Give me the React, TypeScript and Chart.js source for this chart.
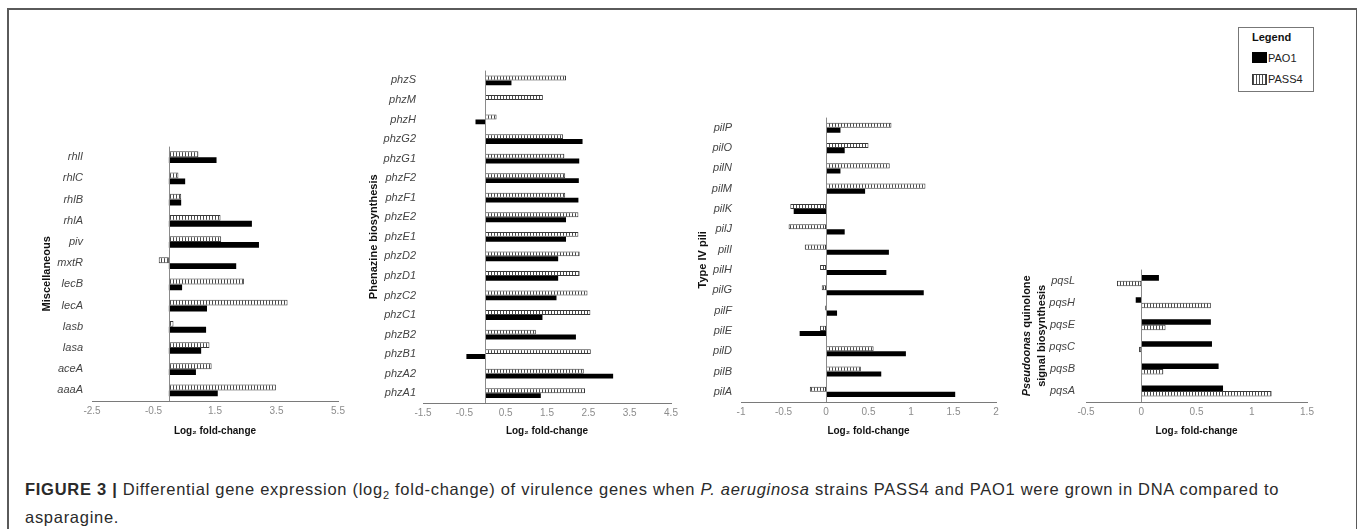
import React, { useEffect, useRef } from "react";
import { Chart, registerables } from "chart.js";
Chart.register(...registerables);

// ---------- DATA ----------
const miscGenes = ["rhlI", "rhlC", "rhlB", "rhlA", "piv", "mxtR", "lecB", "lecA", "lasb", "lasa", "aceA", "aaaA"];
const miscPAO1 = [1.55, 0.53, 0.4, 2.7, 2.93, 2.19, 0.43, 1.24, 1.21, 1.05, 0.88, 1.59];
const miscPASS4 = [0.96, 0.31, 0.4, 1.68, 1.7, -0.33, 2.44, 3.86, 0.15, 1.32, 1.39, 3.48];

const phzGenes = ["phzS", "phzM", "phzH", "phzG2", "phzG1", "phzF2", "phzF1", "phzE2", "phzE1", "phzD2", "phzD1", "phzC2", "phzC1", "phzB2", "phzB1", "phzA2", "phzA1"];
const phzPAO1 = [0.64, 0.02, -0.23, 2.36, 2.28, 2.27, 2.26, 1.96, 1.96, 1.77, 1.77, 1.73, 1.39, 2.2, -0.45, 3.1, 1.35];
const phzPASS4 = [1.96, 1.4, 0.28, 1.89, 1.92, 1.94, 1.94, 2.26, 2.26, 2.29, 2.29, 2.48, 2.55, 1.23, 2.56, 2.39, 2.42];

const pilGenes = ["pilP", "pilO", "pilN", "pilM", "pilK", "pilJ", "pilI", "pilH", "pilG", "pilF", "pilE", "pilD", "pilB", "pilA"];
const pilPAO1 = [0.17, 0.22, 0.17, 0.46, -0.38, 0.22, 0.74, 0.71, 1.15, 0.13, -0.31, 0.94, 0.65, 1.52];
const pilPASS4 = [0.77, 0.5, 0.75, 1.17, -0.42, -0.44, -0.25, -0.07, -0.05, -0.01, -0.07, 0.56, 0.41, -0.19];

const pqsGenes = ["pqsL", "pqsH", "pqsE", "pqsC", "pqsB", "pqsA"];
const pqsPAO1 = [0.16, -0.05, 0.63, 0.64, 0.7, 0.74];
const pqsPASS4 = [-0.22, 0.63, 0.22, -0.02, 0.2, 1.18];

const xTitle = "Log₂ fold-change";
const seriesNames = ["PAO1", "PASS4"];

// ---------- STYLE / LAYOUT ----------
const FONT = "'Liberation Sans', Arial, sans-serif";
const X_TITLE_Y = 431;
const HX = 42;

function makePattern(): CanvasPattern | string {
  const c = document.createElement("canvas");
  c.width = 3;
  c.height = 3;
  const g = c.getContext("2d");
  if (!g) return "#999";
  g.fillStyle = "#ffffff";
  g.fillRect(0, 0, 3, 3);
  g.fillStyle = "#4a4a4a";
  g.fillRect(0, 0, 1, 3);
  return g.createPattern(c, "repeat") || "#999";
}

const zeroLine = {
  id: "zeroLine",
  afterDatasetsDraw(chart: any) {
    const { ctx, chartArea, scales } = chart;
    const x = Math.round(scales.x.getPixelForValue(0)) + 0.5;
    ctx.save();
    ctx.strokeStyle = "#8a8a8a";
    ctx.lineWidth = 1;
    ctx.beginPath();
    ctx.moveTo(x, chartArea.top);
    ctx.lineTo(x, chartArea.bottom);
    ctx.stroke();
    ctx.restore();
  },
};

type Seg = { text: string; italic?: boolean };

// Draws a rotated, multi-line y-axis title whose words may mix italic/upright.
const richYTitle = {
  id: "richYTitle",
  afterDraw(chart: any, _args: any, opts: any) {
    if (!opts || !opts.lines) return;
    const { ctx, chartArea } = chart;
    const cy = (chartArea.top + chartArea.bottom) / 2;
    ctx.save();
    ctx.fillStyle = "#111";
    ctx.textBaseline = "middle";
    opts.lines.forEach((line: Seg[], i: number) => {
      const cx = opts.x + i * opts.lineGap;
      const fontOf = (s: Seg) => `${s.italic ? "italic " : ""}bold ${opts.size}px ${FONT}`;
      let total = 0;
      const widths = line.map((s) => {
        ctx.font = fontOf(s);
        const w = ctx.measureText(s.text).width;
        total += w;
        return w;
      });
      ctx.save();
      ctx.translate(cx, cy);
      ctx.rotate(-Math.PI / 2);
      let pos = -total / 2;
      line.forEach((s, k) => {
        ctx.font = fontOf(s);
        ctx.textAlign = "left";
        ctx.fillText(s.text, pos, 0);
        pos += widths[k];
      });
      ctx.restore();
    });
    ctx.restore();
  },
};

type PanelProps = {
  labels: string[];
  pao1: number[];
  pass4: number[];
  l: number; r: number; t: number; b: number;
  titleX: number;
  title?: string;
  rich?: Seg[][];
  tickPad: number;
  min: number; max: number; step: number;
  cat: number;
  pass4First: boolean;
};

function Panel(p: PanelProps) {
  const ref = useRef<HTMLCanvasElement>(null);
  const padTop = 6;
  const padRight = 16;
  const canvasLeft = p.titleX - 12;
  const canvasTop = p.t - padTop;
  const wy = p.l - canvasLeft;
  const width = p.r + padRight - canvasLeft;
  const height = p.b + HX - canvasTop;
  const yTitleSize = 11;
  const yLH = 1.2;
  const yTitlePad = 12 - (yTitleSize * yLH) / 2;
  const xTitleSize = 10;
  const xLH = 1.2;
  const xTitlePadBottom = p.b + HX - X_TITLE_Y - (xTitleSize * xLH) / 2;

  useEffect(() => {
    if (!ref.current) return;
    const pattern = makePattern();
    const dPAO1 = {
      label: seriesNames[0],
      data: p.pao1,
      backgroundColor: "#000000",
      borderColor: "#000000",
      borderWidth: 0,
    };
    const dPASS4 = {
      label: seriesNames[1],
      data: p.pass4,
      backgroundColor: pattern,
      borderColor: "#3a3a3a",
      borderWidth: 1,
      borderSkipped: false,
    };
    const chart = new Chart(ref.current, {
      type: "bar",
      data: {
        labels: p.labels,
        datasets: (p.pass4First ? [dPASS4, dPAO1] : [dPAO1, dPASS4]) as any,
      },
      plugins: [zeroLine, richYTitle],
      options: {
        indexAxis: "y",
        responsive: false,
        maintainAspectRatio: false,
        animation: false,
        layout: { padding: { top: padTop, right: padRight, left: 0, bottom: 0 } },
        datasets: { bar: { categoryPercentage: p.cat, barPercentage: 1 } },
        plugins: {
          legend: { display: false },
          tooltip: { enabled: false },
          richYTitle: p.rich ? { lines: p.rich, x: 12, lineGap: 15, size: yTitleSize } : false,
        },
        scales: {
          x: {
            type: "linear",
            min: p.min,
            max: p.max,
            ticks: {
              stepSize: p.step,
              color: "#8c8c8c",
              font: { family: FONT, size: 10 },
              padding: 4,
              callback: (v: any) => String(Number(Number(v).toFixed(2))),
            },
            grid: { display: false, drawTicks: false },
            border: { display: true, color: "#7a7a7a", width: 1 },
            title: {
              display: true,
              text: xTitle,
              color: "#111",
              font: { family: FONT, size: xTitleSize, weight: "bold", lineHeight: xLH },
              padding: { top: 0, bottom: xTitlePadBottom },
            },
            afterFit: (s: any) => { s.height = HX; },
          },
          y: {
            ticks: {
              color: "#444",
              font: { family: FONT, size: 11, style: "italic" },
              padding: p.tickPad,
              autoSkip: false,
            },
            grid: { display: false, drawTicks: false },
            border: { display: false },
            title: {
              display: !!p.title,
              text: p.title || "",
              color: "#111",
              font: { family: FONT, size: yTitleSize, weight: "bold", lineHeight: yLH },
              padding: { top: yTitlePad, bottom: 0 },
            },
            afterFit: (s: any) => { s.width = wy; },
          },
        },
      } as any,
    });
    return () => chart.destroy();
  }, []);

  return (
    <canvas
      ref={ref}
      width={width}
      height={height}
      style={{ position: "absolute", left: canvasLeft, top: canvasTop, width, height }}
    />
  );
}

const legendText: React.CSSProperties = {
  position: "absolute",
  fontFamily: FONT,
  fontSize: 11,
  color: "#222",
  lineHeight: "12px",
  whiteSpace: "nowrap",
};

const pqsTitle: Seg[][] = [
  [{ text: "Pseudoonas", italic: true }, { text: " quinolone" }],
  [{ text: "signal biosynthesis" }],
];

export default function App() {
  return (
    <div style={{ position: "absolute", left: 0, top: 0, width: 1357, height: 529, overflow: "hidden", background: "#fff" }}>
      <div style={{ position: "absolute", left: 7, top: 8, width: 1347, height: 600, border: "2px solid #5a5a5a" }} />
      <Panel labels={miscGenes} pao1={miscPAO1} pass4={miscPASS4}
        l={92} r={338} t={137} b={401} titleX={47} title="Miscellaneous"
        tickPad={9} min={-2.5} max={5.5} step={2} cat={0.55} pass4First={true} />
      <Panel labels={phzGenes} pao1={phzPAO1} pass4={phzPASS4}
        l={423} r={671} t={63} b={403} titleX={374} title="Phenazine biosynthesis"
        tickPad={7} min={-1.5} max={4.5} step={1} cat={0.5} pass4First={true} />
      <Panel labels={pilGenes} pao1={pilPAO1} pass4={pilPASS4}
        l={741} r={996} t={108} b={402} titleX={703} title="Type IV pili"
        tickPad={9} min={-1} max={2} step={0.5} cat={0.5} pass4First={true} />
      <Panel labels={pqsGenes} pao1={pqsPAO1} pass4={pqsPASS4}
        l={1086} r={1307} t={258} b={402} titleX={1027} rich={pqsTitle}
        tickPad={11} min={-0.5} max={1.5} step={0.5} cat={0.5} pass4First={false} />

      {/* Legend */}
      <div style={{ position: "absolute", left: 1238, top: 27, width: 74, height: 63, border: "1px solid #777", background: "#fff" }} />
      <div style={{ ...legendText, left: 1252, top: 31, fontWeight: "bold", color: "#111" }}>Legend</div>
      <div style={{ position: "absolute", left: 1252, top: 52, width: 15, height: 11, background: "#000" }} />
      <div style={{ ...legendText, left: 1268, top: 52 }}>{seriesNames[0]}</div>
      <div style={{ position: "absolute", left: 1252, top: 74, width: 13, height: 9, border: "1px solid #3a3a3a", background: "repeating-linear-gradient(90deg, #4a4a4a 0px, #4a4a4a 1px, #fff 1px, #fff 3px)" }} />
      <div style={{ ...legendText, left: 1268, top: 73 }}>{seriesNames[1]}</div>

      {/* Caption */}
      <div style={{ position: "absolute", left: 25, top: 475, width: 1325, fontFamily: FONT, fontSize: 16.5, letterSpacing: 0.72, lineHeight: "28px", color: "#2a2a2a", whiteSpace: "nowrap" }}>
        <b>FIGURE 3 |</b> Differential gene expression (log<sub style={{ fontSize: 11, lineHeight: 0 }}>2</sub> fold-change) of virulence genes when <i>P. aeruginosa</i> strains PASS4 and PAO1 were grown in DNA compared to<br />asparagine.
      </div>
    </div>
  );
}
